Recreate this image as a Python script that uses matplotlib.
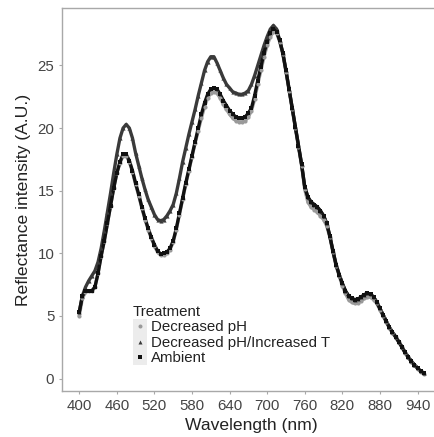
import matplotlib
matplotlib.use("Agg")
import matplotlib.pyplot as plt
from matplotlib.patches import Rectangle
import numpy as np

plt.rcParams['font.family'] = ['Liberation Sans', 'DejaVu Sans']

wavelength = list(range(400, 955, 5))

ambient = [
    5.3, 6.6, 7.0, 7.0, 7.0, 7.3, 8.4, 9.8, 11.0, 12.4,
    13.8, 15.2, 16.4, 17.3, 17.9, 17.9, 17.4, 16.6, 15.6, 14.7,
    13.7, 12.8, 12.0, 11.3, 10.7, 10.2, 9.95, 10.0, 10.1, 10.4,
    11.0, 12.0, 13.2, 14.4, 15.6, 16.7, 17.8, 18.9, 20.0, 21.1,
    22.0, 22.7, 23.1, 23.2, 23.1, 22.7, 22.2, 21.8, 21.4, 21.1,
    20.9, 20.8, 20.8, 20.9, 21.2, 21.6, 22.6, 23.8, 24.9, 26.0,
    26.9, 27.6, 27.9, 27.7, 27.0, 26.0, 24.6, 23.1, 21.6, 20.1,
    18.6, 17.1, 15.3, 14.5, 14.1, 13.9, 13.7, 13.4, 13.0, 12.4,
    11.4, 10.2, 9.1, 8.3, 7.6, 7.0, 6.6, 6.4, 6.3, 6.35,
    6.5, 6.7, 6.8, 6.75, 6.5, 6.1, 5.6, 5.1, 4.6, 4.1,
    3.7, 3.35, 2.95, 2.55, 2.1, 1.75, 1.4, 1.1, 0.85, 0.6,
    0.45,
]

decreased_ph = [
    5.0, 6.4, 6.9, 7.0, 7.0, 7.3, 8.4, 9.8, 11.0, 12.4,
    13.8, 15.2, 16.4, 17.2, 17.8, 17.8, 17.3, 16.5, 15.5, 14.6,
    13.6, 12.7, 11.9, 11.2, 10.6, 10.1, 9.85, 9.9, 10.0, 10.3,
    10.9, 11.9, 13.1, 14.3, 15.5, 16.6, 17.7, 18.8, 19.8, 20.8,
    21.7, 22.4, 22.8, 22.9, 22.8, 22.4, 21.9, 21.5, 21.1, 20.8,
    20.6, 20.5, 20.5, 20.6, 20.9, 21.4, 22.3, 23.5, 24.6, 25.7,
    26.6, 27.3, 27.7, 27.6, 26.9, 25.9, 24.5, 23.0, 21.5, 20.0,
    18.5, 17.0, 15.1, 14.1, 13.7, 13.5, 13.3, 13.0, 12.7, 12.2,
    11.3, 10.1, 9.0, 8.2, 7.4, 6.8, 6.3, 6.1, 6.0, 6.05,
    6.2, 6.4, 6.5, 6.5, 6.3, 6.0, 5.5, 5.0, 4.5, 4.05,
    3.65, 3.3, 2.9, 2.5, 2.05, 1.7, 1.35, 1.05, 0.8, 0.55,
    0.4,
]

decreased_ph_increased_t = [
    5.3, 6.6, 7.3, 7.8, 8.2, 8.6, 9.3, 10.4, 11.8, 13.3,
    14.8, 16.4, 17.9, 19.2, 20.0, 20.3, 20.0, 19.2, 18.0, 17.0,
    16.0, 15.1, 14.3, 13.7, 13.1, 12.7, 12.6, 12.7, 13.0, 13.4,
    13.9, 14.8, 16.0, 17.3, 18.4, 19.5, 20.5, 21.5, 22.6, 23.6,
    24.6, 25.3, 25.7, 25.7, 25.2, 24.6, 24.0, 23.5, 23.2, 22.9,
    22.8, 22.7, 22.7, 22.8, 23.0, 23.5, 24.2, 25.0, 25.8, 26.6,
    27.3, 27.9, 28.2, 27.9, 27.0, 26.0, 24.6, 23.1, 21.6, 20.1,
    18.6, 17.1, 15.3, 14.5, 14.1, 13.9, 13.7, 13.4, 13.0, 12.4,
    11.4, 10.2, 9.1, 8.3, 7.6, 7.0, 6.6, 6.4, 6.3, 6.35,
    6.5, 6.7, 6.8, 6.75, 6.5, 6.1, 5.6, 5.1, 4.6, 4.1,
    3.7, 3.35, 2.95, 2.55, 2.1, 1.75, 1.4, 1.1, 0.85, 0.6,
    0.45,
]

treatments = ["Decreased pH", "Decreased pH/Increased T", "Ambient"]
x_ticks = [400, 460, 520, 580, 640, 700, 760, 820, 880, 940]
y_ticks = [0, 5, 10, 15, 20, 25]

fig = plt.figure(figsize=(4.34, 4.37), dpi=100)
W, H = 434, 437
ax = fig.add_axes([62 / W, 1 - 391 / H, (441 - 62) / W, (391 - 8) / H])

series = [decreased_ph, decreased_ph_increased_t, ambient]
colors = ["#9a9a9a", "#3a3a3a", "#111111"]
markers = ["o", "^", "s"]
handles = []
for name, vals, c, m in zip(treatments, series, colors, markers):
    ax.plot(wavelength, vals, color=c, lw=2.4, solid_capstyle='round', zorder=2)
    ax.plot(wavelength, vals, linestyle='none', marker=m, ms=3.0, color=c,
            markeredgewidth=0, zorder=3)
    h, = ax.plot([], [], linestyle='none', marker=m, ms=3.2, color=c,
                 markeredgewidth=0, label=name)
    handles.append(h)

xr = wavelength[-1] - wavelength[0]
ax.set_xlim(wavelength[0] - 0.05 * xr, wavelength[-1] + 0.05 * xr)
yall = ambient + decreased_ph + decreased_ph_increased_t
yr = max(yall) - min(yall)
ax.set_ylim(min(yall) - 0.05 * yr, max(yall) + 0.05 * yr)

ax.set_xticks(x_ticks)
ax.set_yticks(y_ticks)
ax.tick_params(axis='both', colors='#a8a8a8', length=2.5, width=0.8,
               labelsize=10.8, labelcolor='#444444', pad=3)
for s in ax.spines.values():
    s.set_color('#a8a8a8')
    s.set_linewidth(1.0)

ax.set_xlabel("Wavelength (nm)", fontsize=12.6, color='#222222', labelpad=4)
ax.set_ylabel("Reflectance intensity (A.U.)", fontsize=12.6, color='#222222', labelpad=5)

# legend key background
ax.add_patch(Rectangle((133 / W, 1 - 365 / H), 14 / W, 46 / H,
                       transform=fig.transFigure, facecolor='#ececec',
                       edgecolor='none', zorder=1, clip_on=False))
leg = ax.legend(handles=handles, title="Treatment", loc='upper left',
                bbox_to_anchor=((133 - 62) / (441 - 62), (391 - 305) / (391 - 8)),
                frameon=False, fontsize=10.8, title_fontsize=10.8,
                handlelength=0.9, handletextpad=0.3, labelspacing=0.1,
                borderpad=0.0, borderaxespad=0.0, alignment='left',
                markerscale=0.9)
leg.set_zorder(5)
leg.get_title().set_color('#222222')
for t in leg.get_texts():
    t.set_color('#222222')

fig.savefig("out.png", dpi=100)
